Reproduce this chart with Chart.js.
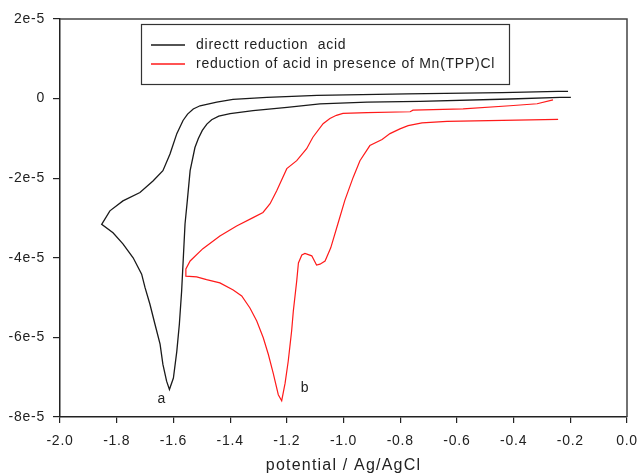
<!DOCTYPE html>
<html>
<head>
<meta charset="utf-8">
<script src="https://cdn.jsdelivr.net/npm/chart.js@4"></script>
<style>
    html, body { margin: 0; padding: 0; background: #fff; }
    #wrap { width: 641px; height: 474px; }
</style>
</head>
<body>
<div id="wrap"><canvas id="cv"></canvas></div>
<script>
// potential (V vs Ag/AgCl) and current (units of 1e-5 A)
const blackX = [-0.198, -0.236, -0.413, -0.730, -0.917, -1.083, -1.199, -1.319, -1.400, -1.440, -1.465, -1.482, -1.498, -1.512, -1.524, -1.541, -1.551, -1.559, -1.565, -1.571, -1.579, -1.588, -1.600, -1.614, -1.624, -1.637, -1.647, -1.665, -1.683, -1.700, -1.712, -1.742, -1.778, -1.813, -1.853, -1.824, -1.778, -1.718, -1.672, -1.637, -1.612, -1.588, -1.566, -1.550, -1.530, -1.506, -1.447, -1.390, -1.270, -1.093, -0.776, -0.441, -0.243, -0.208];
const blackY = [0.03, 0.03, -0.01, -0.07, -0.09, -0.13, -0.22, -0.30, -0.38, -0.44, -0.53, -0.64, -0.80, -1.00, -1.23, -1.81, -2.57, -3.15, -4.00, -4.84, -5.67, -6.35, -7.02, -7.31, -7.10, -6.68, -6.17, -5.67, -5.16, -4.75, -4.41, -4.00, -3.65, -3.37, -3.16, -2.82, -2.57, -2.36, -2.07, -1.81, -1.39, -0.88, -0.55, -0.39, -0.26, -0.18, -0.09, -0.02, 0.03, 0.08, 0.12, 0.15, 0.18, 0.18];

const redX = [-0.243, -0.635, -0.723, -0.772, -0.801, -0.836, -0.864, -0.907, -0.942, -0.966, -0.995, -1.020, -1.045, -1.065, -1.083, -1.095, -1.112, -1.136, -1.147, -1.159, -1.165, -1.177, -1.183, -1.189, -1.195, -1.206, -1.218, -1.230, -1.248, -1.265, -1.283, -1.306, -1.330, -1.359, -1.389, -1.436, -1.483, -1.518, -1.556, -1.556, -1.541, -1.496, -1.436, -1.377, -1.319, -1.284, -1.259, -1.236, -1.200, -1.165, -1.130, -1.108, -1.072, -1.048, -1.025, -1.002, -0.917, -0.765, -0.755, -0.578, -0.413, -0.317, -0.261];
const redY = [-0.52, -0.57, -0.61, -0.68, -0.76, -0.88, -1.03, -1.18, -1.56, -1.98, -2.55, -3.15, -3.75, -4.08, -4.16, -4.18, -3.95, -3.89, -3.93, -4.13, -4.58, -5.34, -5.84, -6.22, -6.60, -7.15, -7.59, -7.44, -6.90, -6.43, -6.01, -5.59, -5.26, -4.96, -4.81, -4.63, -4.55, -4.48, -4.46, -4.28, -4.08, -3.77, -3.45, -3.20, -2.99, -2.86, -2.64, -2.32, -1.76, -1.56, -1.26, -0.97, -0.63, -0.50, -0.42, -0.37, -0.35, -0.33, -0.29, -0.26, -0.18, -0.13, -0.03];

const seriesNames = ['directt reduction  acid', 'reduction of acid in presence of Mn(TPP)Cl'];
const seriesColors = ['#1a1a1a', '#ff1a1a'];

const xTicks = [-2.0, -1.8, -1.6, -1.4, -1.2, -1.0, -0.8, -0.6, -0.4, -0.2, 0.0];
const xTickLabels = ['-2.0', '-1.8', '-1.6', '-1.4', '-1.2', '-1.0', '-0.8', '-0.6', '-0.4', '-0.2', '0.0'];
const yTicks = [-8, -6, -4, -2, 0, 2];
const yTickLabels = ['-8e-5', '-6e-5', '-4e-5', '-2e-5', '0', '2e-5'];

// peak labels
const peakNames = ['a', 'b'];
const peakX = [-1.641, -1.136];
const peakY = [-7.56, -7.27];

const xTitle = 'potential / Ag/AgCl';
const textColor = '#222';
const axisColor = '#222';

function toPoints(xs, ys) {
    return xs.map((x, i) => ({ x: x, y: ys[i] }));
}

// Box, legend, peak labels and x title
const extras = {
    id: 'extras',
    beforeUpdate(chart) {
        chart.ctx.letterSpacing = '0.75px';
    },
    beforeDraw(chart) {
        chart.ctx.letterSpacing = '0.75px';
    },
    afterDatasetsDraw(chart) {
        const ctx = chart.ctx;
        const a = chart.chartArea;
        const xs = chart.scales.x, ys = chart.scales.y;
        ctx.save();

        // frame top/right
        ctx.strokeStyle = '#444';
        ctx.lineWidth = 1.5;
        ctx.beginPath();
        ctx.moveTo(a.left, a.top);
        ctx.lineTo(a.right, a.top);
        ctx.lineTo(a.right, a.bottom);
        ctx.stroke();

        // legend box
        const lx = a.left + 81, ly = a.top + 5, lw = 368, lh = 60;
        ctx.strokeStyle = '#333';
        ctx.lineWidth = 1.2;
        ctx.strokeRect(lx + 0.5, ly + 0.5, lw, lh);
        ctx.font = '14px "Liberation Sans", Arial, sans-serif';
        ctx.textBaseline = 'middle';
        ctx.textAlign = 'left';
        seriesNames.forEach((name, i) => {
            const yy = ly + 21 + i * 19;
            ctx.strokeStyle = seriesColors[i];
            ctx.lineWidth = 1.3;
            ctx.beginPath();
            ctx.moveTo(lx + 10, yy);
            ctx.lineTo(lx + 44, yy);
            ctx.stroke();
            ctx.fillStyle = textColor;
            ctx.fillText(name, lx + 55, yy);
        });

        // peak labels
        ctx.textAlign = 'center';
        peakNames.forEach((t, i) => {
            ctx.fillText(t, xs.getPixelForValue(peakX[i]), ys.getPixelForValue(peakY[i]));
        });

        // x title
        ctx.letterSpacing = '1.2px';
        ctx.font = '16px "Liberation Sans", Arial, sans-serif';
        ctx.fillText(xTitle, (a.left + a.right) / 2, 466);
        ctx.restore();
    }
};

new Chart(document.getElementById('cv'), {
    type: 'scatter',
    data: {
        datasets: [
            {
                label: seriesNames[0],
                data: toPoints(blackX, blackY),
                showLine: true,
                borderColor: seriesColors[0],
                borderWidth: 1.3,
                pointRadius: 0,
                tension: 0
            },
            {
                label: seriesNames[1],
                data: toPoints(redX, redY),
                showLine: true,
                borderColor: seriesColors[1],
                borderWidth: 1.2,
                pointRadius: 0,
                tension: 0
            }
        ]
    },
    options: {
        responsive: true,
        maintainAspectRatio: false,
        animation: false,
        layout: { padding: { top: 19, right: 14, left: 0, bottom: 0 } },
        plugins: {
            legend: { display: false },
            tooltip: { enabled: false }
        },
        scales: {
            x: {
                type: 'linear',
                min: -2,
                max: 0,
                afterBuildTicks: (scale) => { scale.ticks = xTicks.map(v => ({ value: v })); },
                afterFit: (scale) => {
                    scale.height = 57;
                    scale.paddingLeft = 0;
                    scale.paddingRight = 0;
                },
                ticks: {
                    autoSkip: false,
                    maxRotation: 0,
                    padding: 10,
                    color: textColor,
                    font: { family: '"Liberation Sans", Arial, sans-serif', size: 14 },
                    callback: (v, i) => xTickLabels[i]
                },
                grid: { drawOnChartArea: false, tickLength: 6, color: axisColor, lineWidth: 1.2 },
                border: { color: axisColor, width: 1.5 }
            },
            y: {
                type: 'linear',
                min: -8,
                max: 2,
                afterBuildTicks: (scale) => { scale.ticks = yTicks.map(v => ({ value: v })); },
                afterFit: (scale) => { scale.width = 60; },
                ticks: {
                    autoSkip: false,
                    padding: 8,
                    color: textColor,
                    font: { family: '"Liberation Sans", Arial, sans-serif', size: 14 },
                    callback: (v, i) => yTickLabels[i]
                },
                grid: { drawOnChartArea: false, tickLength: 7, color: axisColor, lineWidth: 1.2 },
                border: { color: axisColor, width: 1.5 }
            }
        }
    },
    plugins: [extras]
});
</script>
</body>
</html>
